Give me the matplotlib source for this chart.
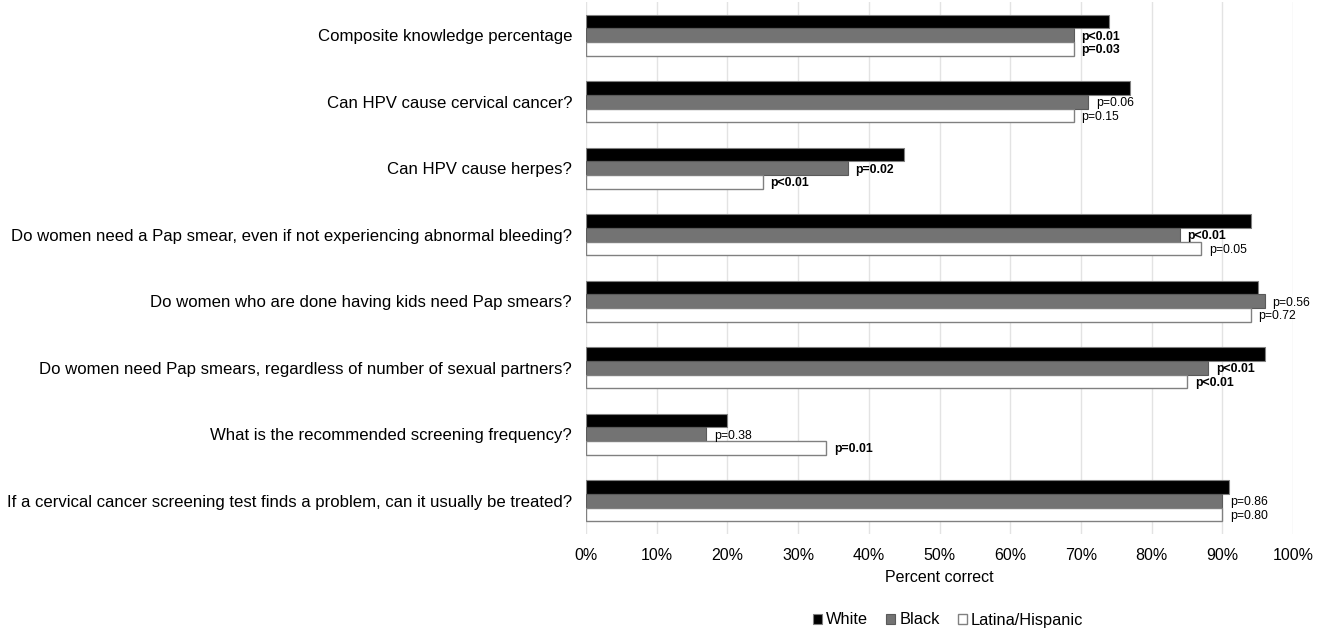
import matplotlib
matplotlib.use("Agg")
import matplotlib.pyplot as plt
import numpy as np

plt.rcParams['font.family'] = ['Liberation Sans', 'DejaVu Sans']

categories = [
    "Composite knowledge percentage",
    "Can HPV cause cervical cancer?",
    "Can HPV cause herpes?",
    "Do women need a Pap smear, even if not experiencing abnormal bleeding?",
    "Do women who are done having kids need Pap smears?",
    "Do women need Pap smears, regardless of number of sexual partners?",
    "What is the recommended screening frequency?",
    "If a cervical cancer screening test finds a problem, can it usually be treated?",
]
white = [74, 77, 45, 94, 95, 96, 20, 91]
black = [69, 71, 37, 84, 96, 88, 17, 90]
latina = [69, 69, 25, 87, 94, 85, 34, 90]
p_black = ["p<0.01", "p=0.06", "p=0.02", "p<0.01", "p=0.56", "p<0.01", "p=0.38", "p=0.86"]
p_latina = ["p=0.03", "p=0.15", "p<0.01", "p=0.05", "p=0.72", "p<0.01", "p=0.01", "p=0.80"]
bold_black = [True, False, True, True, False, True, False, False]
bold_latina = [True, False, True, False, False, True, True, False]
series_names = ["White", "Black", "Latina/Hispanic"]

fig = plt.figure(figsize=(13.17, 6.3), dpi=100)
ax = fig.add_axes([586/1317, 1-534/630, (1293-586)/1317, (534-2)/630])

y = np.arange(len(categories))
h = 0.205
edge = "#808080"
ax.barh(y - h, white, height=h, color="black", edgecolor=edge, linewidth=0.8, label=series_names[0], zorder=3)
ax.barh(y, black, height=h, color="#737373", edgecolor="#5a5a5a", linewidth=0.8, label=series_names[1], zorder=3)
ax.barh(y + h, latina, height=h, color="white", edgecolor=edge, linewidth=1.0, label=series_names[2], zorder=3)

for i in range(len(categories)):
    ax.text(black[i] + 1.1, y[i] + 0.02, p_black[i], fontsize=8.8,
            fontweight="bold" if bold_black[i] else "normal", va="center", ha="left", color="black")
    ax.text(latina[i] + 1.1, y[i] + h + 0.02, p_latina[i], fontsize=8.8,
            fontweight="bold" if bold_latina[i] else "normal", va="center", ha="left", color="black")

ax.set_xlim(0, 100)
ax.set_ylim(len(categories) - 0.5, -0.5)
ax.set_xticks(np.arange(0, 101, 10))
ax.set_xticklabels([f"{v}%" for v in range(0, 101, 10)], fontsize=11.5)
ax.set_yticks(y)
ax.set_yticklabels(categories, fontsize=12.1)
ax.tick_params(axis='both', length=0)
ax.tick_params(axis='y', pad=10)
ax.tick_params(axis='x', pad=10)
ax.grid(axis='x', color="#e3e3e3", linewidth=1.0, zorder=0)
ax.set_axisbelow(True)
for s in ax.spines.values():
    s.set_visible(False)
ax.set_xlabel("Percent correct", fontsize=11.5, labelpad=5)

leg = fig.legend(loc="center", bbox_to_anchor=(948/1317, 1-620/630), ncol=3, frameon=False,
                 fontsize=11.8, handlelength=0.55, handleheight=0.55, handletextpad=0.25, columnspacing=1.1)

fig.savefig("out.png", dpi=100, facecolor="white")
